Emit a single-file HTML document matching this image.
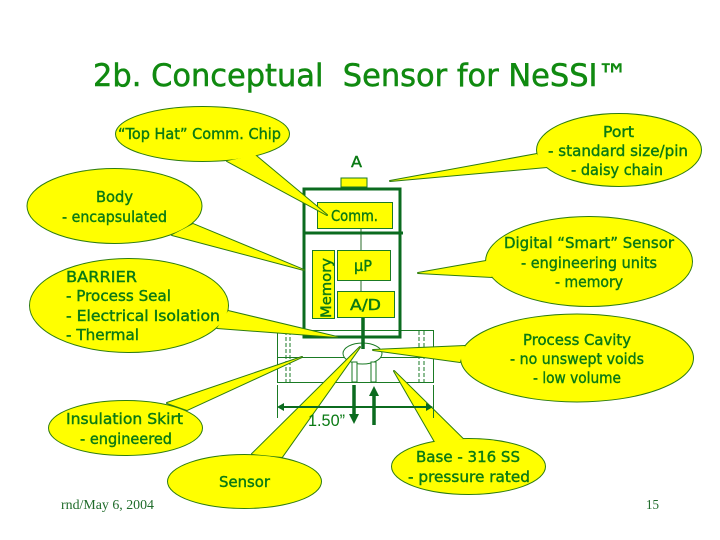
<!DOCTYPE html>
<html>
<head>
<meta charset="utf-8">
<style>
html,body{margin:0;padding:0;background:#fff;width:720px;height:540px;overflow:hidden}
svg{display:block}
.t{font-family:"DejaVu Sans",sans-serif;font-size:15px;fill:#0a7a14;stroke:#0a7a14;stroke-width:.4}
.s{font-family:"Liberation Serif",serif;font-size:14px;fill:#1f6b2a}
.l{fill:none;stroke:#1a7a24;stroke-width:1}
.h{fill:none;stroke:#0b6b1f;stroke-width:3}
.b{fill:#ffff00;stroke:#1a7a24;stroke-width:1}
</style>
</head>
<body>
<svg width="720" height="540" viewBox="0 0 720 540" xmlns="http://www.w3.org/2000/svg">
<defs>
<g id="cs">
<polygon points="227,161 327,215 255,155"/><ellipse cx="202.500" cy="134" rx="86.500" ry="27"/>
<polygon points="193,224 304,270 172,235"/><ellipse cx="114.500" cy="206" rx="87" ry="37"/>
<polygon points="228,311 337,337 217,328"/><ellipse cx="129" cy="305.500" rx="99" ry="46.500"/>
<polygon points="537,154 390,181 547,167"/><ellipse cx="619" cy="150" rx="82" ry="36"/>
<polygon points="486,261 418,273 492,277"/><ellipse cx="589" cy="261.500" rx="103" ry="44.500"/>
<polygon points="465,346 373,350 460,362"/><ellipse cx="577" cy="358" rx="116" ry="43.500"/>
<polygon points="167,403 302,357 187,410"/><ellipse cx="125.500" cy="428" rx="76.500" ry="27"/>
<polygon points="252,454 360,347 282,457"/><ellipse cx="244.500" cy="481.500" rx="76.500" ry="26.500"/>
<polygon points="435,442 394,371 463,439"/><ellipse cx="468.500" cy="466.500" rx="76.500" ry="27.500"/>
</g>
</defs>

<text x="93" y="86" class="t" style="font-size:31px;fill:#108a10;stroke:#108a10;stroke-width:.5" textLength="535" lengthAdjust="spacingAndGlyphs" xml:space="preserve">2b. Conceptual  Sensor for NeSSI™</text>

<!-- lower housing -->
<rect x="277.500" y="330.500" width="156" height="52" class="l"/>
<line x1="277" y1="357.500" x2="433" y2="357.500" class="l"/>
<g class="l" stroke-dasharray="4 2">
<line x1="286" y1="331" x2="286" y2="382"/><line x1="290" y1="331" x2="290" y2="382"/>
<line x1="419" y1="331" x2="419" y2="382"/><line x1="424" y1="331" x2="424" y2="382"/>
</g>
<ellipse cx="362.500" cy="353.500" rx="19.500" ry="10.500" fill="#fff" stroke="#1a7a24"/>
<rect x="352" y="362" width="5" height="20" fill="#fff" stroke="#1a7a24"/>
<rect x="371" y="362" width="5" height="20" fill="#fff" stroke="#1a7a24"/>

<!-- body -->
<rect x="341" y="178" width="26" height="9" class="b"/>
<line x1="361" y1="228" x2="361" y2="250" stroke="#2a6b2a"/>
<line x1="361" y1="280" x2="361" y2="291" stroke="#2a6b2a"/>
<line x1="363" y1="317" x2="363" y2="349" stroke="#0b6b1f" stroke-width="3.500"/>
<rect x="304" y="189" width="96" height="148" class="h"/>
<line x1="303" y1="233" x2="403" y2="233" class="h"/>
<rect x="317.500" y="202.500" width="75" height="26" class="b"/>
<rect x="312.500" y="250.500" width="22" height="68" class="b"/>
<rect x="337.500" y="250.500" width="53" height="30" class="b"/>
<rect x="337.500" y="291.500" width="57" height="26" class="b"/>
<text x="331" y="221" class="t" textLength="47" lengthAdjust="spacingAndGlyphs">Comm.</text>
<text x="354" y="271" class="t" textLength="18" lengthAdjust="spacingAndGlyphs">µP</text>
<text x="350" y="310" class="t" textLength="31" lengthAdjust="spacingAndGlyphs">A/D</text>
<text transform="translate(331 318) rotate(-90)" class="t" style="font-size:14px" textLength="60" lengthAdjust="spacingAndGlyphs">Memory</text>
<text x="351" y="167" class="t" textLength="11" lengthAdjust="spacingAndGlyphs">A</text>

<!-- callouts: outline pass then fill pass merges each ellipse with its tail -->
<use href="#cs" fill="#2e7d10" stroke="#2e7d10" stroke-width="2" stroke-linejoin="round"/>
<use href="#cs" fill="#ffff00" stroke="none"/>

<!-- dimension and flow arrows sit above the callout tails -->
<line x1="277.500" y1="385" x2="277.500" y2="418" class="l"/>
<line x1="433.500" y1="385" x2="433.500" y2="418" class="l"/>
<line x1="279" y1="407" x2="431" y2="407" stroke="#0b6b1f" stroke-width="2"/>
<polygon points="277,407 284,403 284,411" fill="#0b6b1f"/>
<polygon points="433,407 426,403 426,411" fill="#0b6b1f"/>
<line x1="354" y1="385" x2="354" y2="416" stroke="#0b6b1f" stroke-width="3.500"/>
<polygon points="354,424 349,414 359,414" fill="#0b6b1f"/>
<line x1="374" y1="394" x2="374" y2="425" stroke="#0b6b1f" stroke-width="3.500"/>
<polygon points="374,386 369,396 379,396" fill="#0b6b1f"/>
<text x="308" y="426" style="font-family:'Liberation Sans',sans-serif;font-size:17px;fill:#0a7a14" textLength="37" lengthAdjust="spacingAndGlyphs">1.50”</text>

<!-- callout text -->
<text x="118" y="139" class="t" textLength="163" lengthAdjust="spacingAndGlyphs">“Top Hat” Comm. Chip</text>
<text x="96" y="202" class="t" textLength="37" lengthAdjust="spacingAndGlyphs">Body</text>
<text x="62" y="222" class="t" textLength="105" lengthAdjust="spacingAndGlyphs">- encapsulated</text>
<text x="66" y="282" class="t" textLength="71" lengthAdjust="spacingAndGlyphs">BARRIER</text>
<text x="66" y="301" class="t" textLength="105" lengthAdjust="spacingAndGlyphs">- Process Seal</text>
<text x="66" y="321" class="t" textLength="154" lengthAdjust="spacingAndGlyphs">- Electrical Isolation</text>
<text x="66" y="340" class="t" textLength="73" lengthAdjust="spacingAndGlyphs">- Thermal</text>
<text x="603" y="137" class="t" textLength="31" lengthAdjust="spacingAndGlyphs">Port</text>
<text x="548" y="156" class="t" textLength="140" lengthAdjust="spacingAndGlyphs">- standard size/pin</text>
<text x="571" y="175" class="t" textLength="92" lengthAdjust="spacingAndGlyphs">- daisy chain</text>
<text x="504" y="248" class="t" textLength="170" lengthAdjust="spacingAndGlyphs">Digital “Smart” Sensor</text>
<text x="521" y="268" class="t" textLength="136" lengthAdjust="spacingAndGlyphs">- engineering units</text>
<text x="555" y="287" class="t" textLength="68" lengthAdjust="spacingAndGlyphs">- memory</text>
<text x="523" y="345" class="t" textLength="108" lengthAdjust="spacingAndGlyphs">Process Cavity</text>
<text x="510" y="364" class="t" textLength="134" lengthAdjust="spacingAndGlyphs">- no unswept voids</text>
<text x="533" y="383" class="t" textLength="88" lengthAdjust="spacingAndGlyphs">- low volume</text>
<text x="66" y="424" class="t" textLength="117" lengthAdjust="spacingAndGlyphs">Insulation Skirt</text>
<text x="80" y="444" class="t" textLength="92" lengthAdjust="spacingAndGlyphs">- engineered</text>
<text x="219" y="487" class="t" textLength="51" lengthAdjust="spacingAndGlyphs">Sensor</text>
<text x="416" y="462" class="t" textLength="104" lengthAdjust="spacingAndGlyphs">Base - 316 SS</text>
<text x="408" y="482" class="t" textLength="122" lengthAdjust="spacingAndGlyphs">- pressure rated</text>

<text x="61" y="509" class="s" textLength="93" lengthAdjust="spacingAndGlyphs">rnd/May 6, 2004</text>
<text x="646" y="509" class="s" textLength="13" lengthAdjust="spacingAndGlyphs">15</text>
</svg>
</body>
</html>
